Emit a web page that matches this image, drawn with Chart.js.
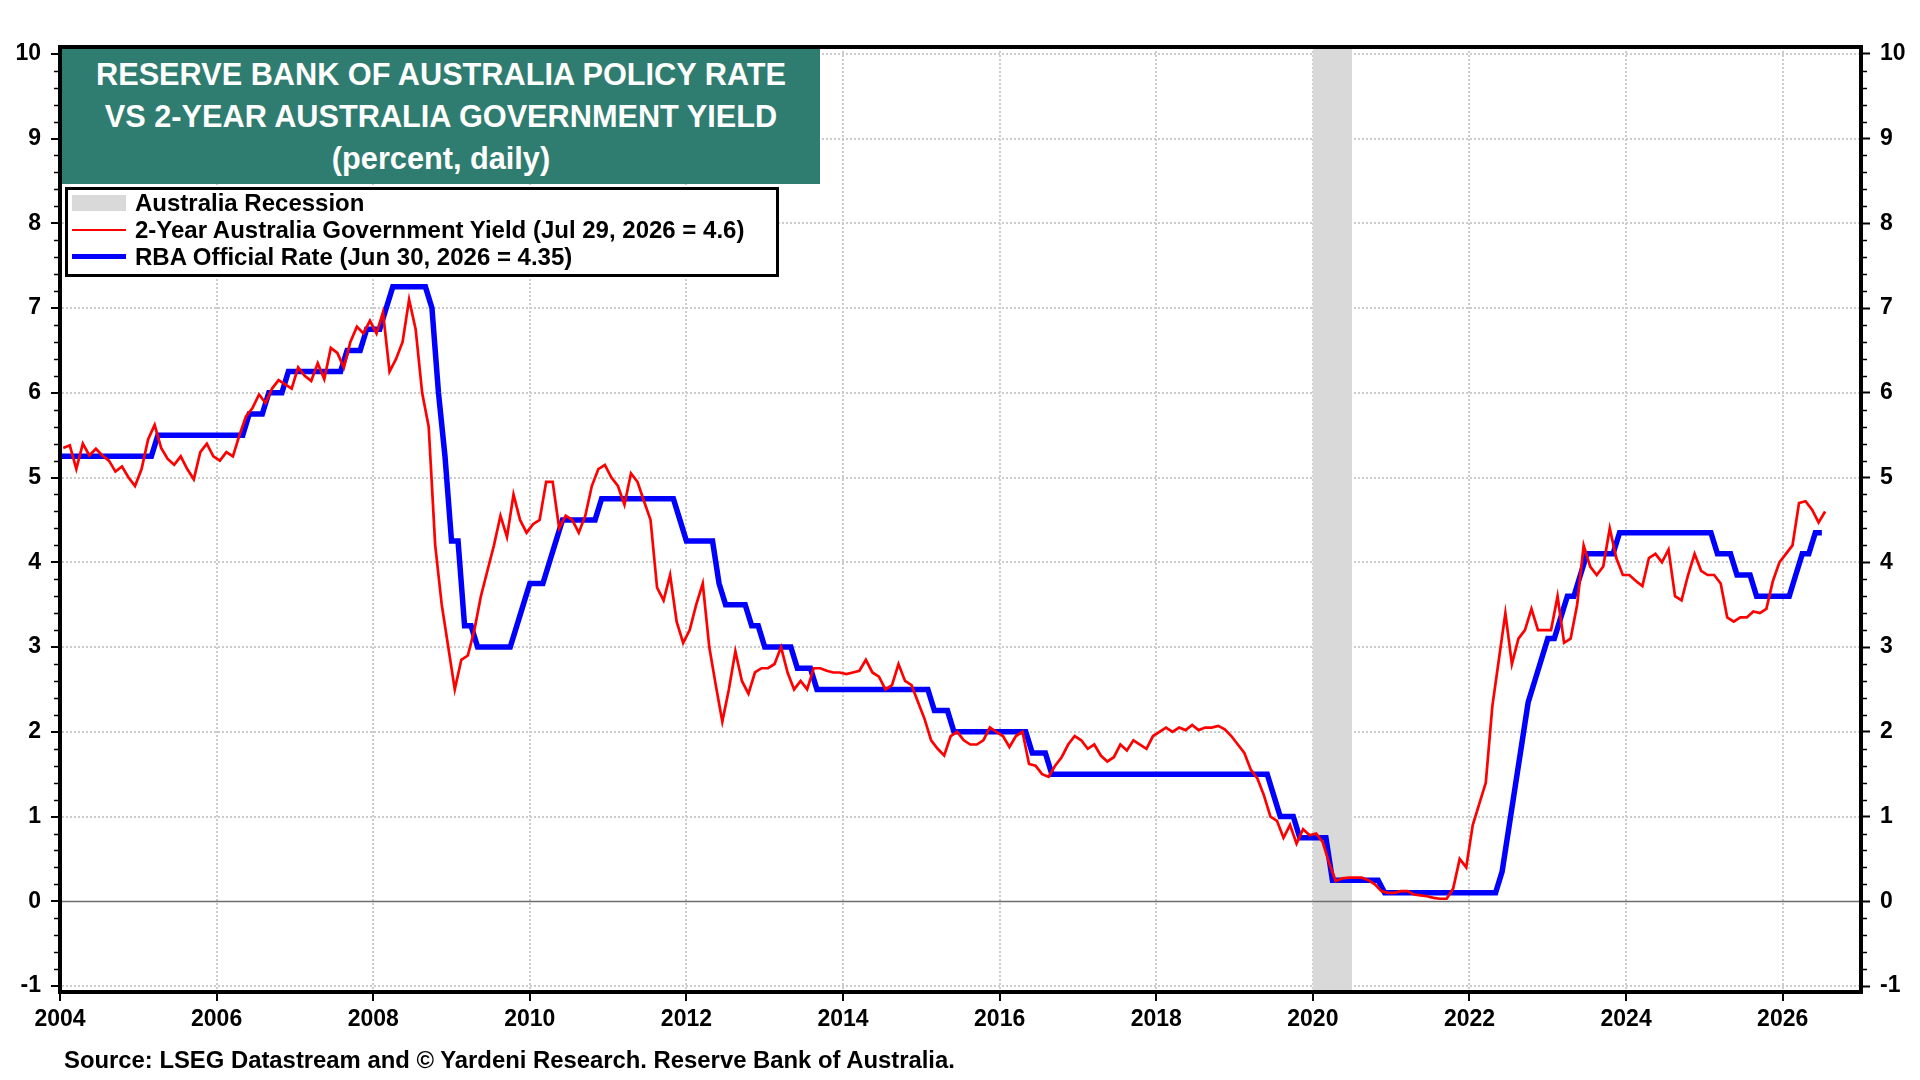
<!DOCTYPE html>
<html>
<head>
<meta charset="utf-8">
<script src="https://cdn.jsdelivr.net/npm/chart.js@4.4.1/dist/chart.umd.min.js"></script>
<style>
  html, body { margin: 0; padding: 0; background: #fff; }
  #wrap { position: relative; width: 1920px; height: 1080px; overflow: hidden;
          font-family: "Liberation Sans", Arial, sans-serif; font-weight: bold; color: #000; }
  #c { position: absolute; left: 0; top: 0; }
  #title { position: absolute; left: 62px; top: 49px; width: 758px; height: 135px;
           background: #2f7d70; color: #fff; text-align: center; font-size: 30.7px;
           line-height: 42px; padding-top: 5px; box-sizing: border-box; }
  #legend { position: absolute; left: 65px; top: 187px; width: 714px; height: 90px;
            background: #fff; border: 3px solid #000; box-sizing: border-box; }
  .row { position: absolute; left: 0; height: 28px; width: 700px; }
  .sw { position: absolute; left: 4px; width: 54px; }
  .txt { position: absolute; left: 67px; top: 0; line-height: 28px; font-size: 24px; white-space: nowrap; }
  #source { position: absolute; left: 64px; top: 1046px; line-height: 28px; font-size: 23.85px; white-space: nowrap; }
</style>
</head>
<body>
<div id="wrap">
  <canvas id="c" width="1920" height="1080"></canvas>
  <div id="title">
    <div>RESERVE BANK OF AUSTRALIA POLICY RATE</div>
    <div>VS 2-YEAR AUSTRALIA GOVERNMENT YIELD</div>
    <div>(percent, daily)</div>
  </div>
  <div id="legend">
    <div class="row" style="top:-1px"><div class="sw" style="top:6px;height:16px;background:#d9d9d9"></div><div class="txt">Australia Recession</div></div>
    <div class="row" style="top:26px"><div class="sw" style="top:13px;height:2px;background:#ff0000"></div><div class="txt">2-Year Australia Government Yield (Jul 29, 2026 = 4.6)</div></div>
    <div class="row" style="top:53px"><div class="sw" style="top:11px;height:5px;background:#0000ff"></div><div class="txt">RBA Official Rate (Jun 30, 2026 = 4.35)</div></div>
  </div>
  <div id="source">Source: LSEG Datastream and © Yardeni Research. Reserve Bank of Australia.</div>
</div>
<script>
// ---------------- DATA ----------------
// 2-year Australia government yield, monthly readings (percent), starting Jan 2004
const yieldStart = '2004-01';
const yieldValues = [
  5.35, 5.38, 5.10, 5.40, 5.26, 5.34, 5.26, 5.20, 5.07, 5.13, 5.00, 4.90, // 2004
  5.10, 5.45, 5.62, 5.35, 5.22, 5.15, 5.25, 5.10, 4.98, 5.30, 5.40, 5.25, // 2005
  5.20, 5.30, 5.25, 5.50, 5.72, 5.82, 5.98, 5.88, 6.05, 6.15, 6.10, 6.05, // 2006
  6.30, 6.20, 6.14, 6.35, 6.16, 6.53, 6.47, 6.30, 6.60, 6.78, 6.70, 6.85, // 2007
  6.70, 6.95, 6.25, 6.40, 6.60, 7.10, 6.75, 6.00, 5.60, 4.20, 3.50, 3.00, // 2008
  2.50, 2.85, 2.90, 3.20, 3.60, 3.90, 4.20, 4.55, 4.30, 4.80, 4.50, 4.35, // 2009
  4.45, 4.50, 4.95, 4.95, 4.40, 4.55, 4.50, 4.35, 4.55, 4.90, 5.10, 5.15, // 2010
  5.00, 4.90, 4.68, 5.05, 4.95, 4.72, 4.50, 3.70, 3.55, 3.85, 3.30, 3.05, // 2011
  3.20, 3.50, 3.75, 3.00, 2.55, 2.12, 2.50, 2.95, 2.60, 2.45, 2.70, 2.75, // 2012
  2.75, 2.80, 3.00, 2.70, 2.50, 2.60, 2.50, 2.75, 2.75, 2.72, 2.70, 2.70, // 2013
  2.68, 2.70, 2.72, 2.85, 2.70, 2.65, 2.50, 2.55, 2.80, 2.60, 2.55, 2.35, // 2014
  2.15, 1.90, 1.80, 1.72, 1.95, 2.00, 1.90, 1.85, 1.85, 1.90, 2.05, 2.00, // 2015
  1.95, 1.82, 1.95, 2.00, 1.62, 1.60, 1.50, 1.47, 1.60, 1.70, 1.85, 1.95, // 2016
  1.90, 1.80, 1.85, 1.72, 1.65, 1.70, 1.85, 1.78, 1.90, 1.85, 1.80, 1.95, // 2017
  2.00, 2.05, 2.00, 2.05, 2.02, 2.08, 2.02, 2.05, 2.05, 2.07, 2.03, 1.95, // 2018
  1.85, 1.75, 1.55, 1.45, 1.25, 1.00, 0.95, 0.75, 0.90, 0.68, 0.85, 0.78, // 2019
  0.80, 0.70, 0.45, 0.24, 0.27, 0.28, 0.28, 0.28, 0.25, 0.20, 0.12, 0.10, // 2020
  0.10, 0.12, 0.12, 0.08, 0.07, 0.06, 0.04, 0.03, 0.03, 0.15, 0.50, 0.40, // 2021
  0.90, 1.15, 1.40, 2.30, 2.85, 3.40, 2.80, 3.10, 3.20, 3.45, 3.20, 3.20, // 2022
  3.20, 3.60, 3.05, 3.10, 3.50, 4.20, 3.95, 3.85, 3.95, 4.40, 4.05, 3.85, // 2023
  3.85, 3.78, 3.72, 4.05, 4.10, 4.00, 4.15, 3.60, 3.55, 3.85, 4.10, 3.90, // 2024
  3.85, 3.85, 3.75, 3.35, 3.30, 3.35, 3.35, 3.42, 3.40, 3.45, 3.78, 4.00, // 2025
  4.10, 4.20, 4.70, 4.72, 4.62, 4.47, 4.60                                // 2026
];

// RBA official cash rate, month-end observations (only the months around each change)
const rbaMonths = [
  '2003-12','2005-02','2005-03','2006-04','2006-05','2006-07','2006-08','2006-10','2006-11',
  '2007-07','2007-08','2007-10','2007-11','2008-01','2008-02','2008-03','2008-08','2008-09',
  '2008-10','2008-11','2008-12','2009-01','2009-02','2009-03','2009-04','2009-09','2009-10',
  '2009-11','2009-12','2010-02','2010-03','2010-04','2010-05','2010-10','2010-11','2011-10',
  '2011-11','2011-12','2012-04','2012-05','2012-06','2012-09','2012-10','2012-11','2012-12',
  '2013-04','2013-05','2013-07','2013-08','2015-01','2015-02','2015-04','2015-05','2016-04',
  '2016-05','2016-07','2016-08','2019-05','2019-06','2019-07','2019-09','2019-10','2020-02',
  '2020-03','2020-10','2020-11','2022-04','2022-05','2022-06','2022-07','2022-08','2022-09',
  '2022-10','2022-11','2022-12','2023-01','2023-02','2023-03','2023-04','2023-05','2023-06',
  '2023-10','2023-11','2025-01','2025-02','2025-04','2025-05','2025-07','2025-08','2026-01',
  '2026-02','2026-03','2026-04','2026-05','2026-06'
];
const rbaValues = [
  5.25, 5.25, 5.50, 5.50, 5.75, 5.75, 6.00, 6.00, 6.25,
  6.25, 6.50, 6.50, 6.75, 6.75, 7.00, 7.25, 7.25, 7.00,
  6.00, 5.25, 4.25, 4.25, 3.25, 3.25, 3.00, 3.00, 3.25,
  3.50, 3.75, 3.75, 4.00, 4.25, 4.50, 4.50, 4.75, 4.75,
  4.50, 4.25, 4.25, 3.75, 3.50, 3.50, 3.25, 3.25, 3.00,
  3.00, 2.75, 2.75, 2.50, 2.50, 2.25, 2.25, 2.00, 2.00,
  1.75, 1.75, 1.50, 1.50, 1.25, 1.00, 1.00, 0.75, 0.75,
  0.25, 0.25, 0.10, 0.10, 0.35, 0.85, 1.35, 1.85, 2.35,
  2.60, 2.85, 3.10, 3.10, 3.35, 3.60, 3.60, 3.85, 4.10,
  4.10, 4.35, 4.35, 4.10, 4.10, 3.85, 3.85, 3.60, 3.60,
  3.85, 4.10, 4.10, 4.35, 4.35
];

// Australia recession (first month, last month)
const recessionStart = ['2020-01'];
const recessionEnd = ['2020-06'];

// Axis ticks
const xTickYears = [2004, 2006, 2008, 2010, 2012, 2014, 2016, 2018, 2020, 2022, 2024, 2026];
const yTickValues = [-1, 0, 1, 2, 3, 4, 5, 6, 7, 8, 9, 10];
const xRange = [2004, 2027];
const yRange = [-1.07, 10.08];

// ---------------- HELPERS ----------------
function parseYM(s) { const p = s.split('-'); return [Number(p[0]), Number(p[1])]; }
function monthEnd(s) { const [y, m] = parseYM(s); return y + m / 12; }
function monthStartX(s) { const [y, m] = parseYM(s); return y + (m - 1) / 12; }
const [y0, m0] = parseYM(yieldStart);
const yieldPoints = yieldValues.map((v, i) => ({ x: y0 + (m0 - 1 + i + 0.5) / 12, y: v }));
const rbaPoints = rbaMonths.map((s, i) => ({ x: monthEnd(s), y: rbaValues[i] }));

const FONT = '"Liberation Sans", Arial, sans-serif';

const decor = {
  id: 'decor',
  beforeDatasetsDraw(chart) {
    const { ctx, chartArea: a, scales: { x, y } } = chart;
    ctx.save();
    ctx.fillStyle = '#d9d9d9';
    for (let i = 0; i < recessionStart.length; i++) {
      const x1 = x.getPixelForValue(monthStartX(recessionStart[i]));
      const x2 = x.getPixelForValue(monthEnd(recessionEnd[i]));
      ctx.fillRect(x1, a.top, x2 - x1, a.bottom - a.top);
    }
    const py = Math.round(y.getPixelForValue(0)) + 0.5;
    ctx.strokeStyle = '#6e6e6e';
    ctx.lineWidth = 1.6;
    ctx.beginPath(); ctx.moveTo(a.left, py); ctx.lineTo(a.right, py); ctx.stroke();
    ctx.restore();
  },
  afterDraw(chart) {
    const { ctx, chartArea: a, scales: { y } } = chart;
    ctx.save();
    ctx.strokeStyle = '#000';
    ctx.lineWidth = 4;
    ctx.strokeRect(a.left, a.top, a.right - a.left, a.bottom - a.top);
    ctx.lineWidth = 1.5;
    ctx.beginPath();
    for (let i = -5; i <= 50; i++) {
      if (i % 5 === 0) continue;
      const py = Math.round(y.getPixelForValue(i / 5)) + 0.5;
      ctx.moveTo(a.left - 6, py); ctx.lineTo(a.left, py);
      ctx.moveTo(a.right, py); ctx.lineTo(a.right + 6, py);
    }
    ctx.stroke();
    ctx.restore();
  }
};

const tickFont = { family: FONT, size: 23, weight: 'bold' };

new Chart(document.getElementById('c'), {
  type: 'line',
  data: {
    datasets: [
      { label: '2-Year Australia Government Yield', data: yieldPoints, borderColor: '#ff0000',
        borderWidth: 2.7, pointRadius: 0, tension: 0, fill: false },
      { label: 'RBA Official Rate', data: rbaPoints, borderColor: '#0000ff',
        borderWidth: 5.5, pointRadius: 0, tension: 0, fill: false }
    ]
  },
  options: {
    responsive: false,
    animation: false,
    devicePixelRatio: 1,
    parsing: false,
    layout: { padding: { top: 47, left: 0, right: 0, bottom: 0 } },
    plugins: { legend: { display: false }, tooltip: { enabled: false } },
    scales: {
      x: {
        type: 'linear', position: 'bottom', min: xRange[0], max: xRange[1],
        afterBuildTicks: (s) => { s.ticks = xTickYears.map(v => ({ value: v })); },
        afterFit: (s) => { s.height = 88; },
        ticks: { font: tickFont, color: '#000', padding: 5, maxRotation: 0, autoSkip: false,
                 callback: (v) => String(v) },
        grid: { color: '#cccccc', lineWidth: 2, tickLength: 9, tickColor: '#000', tickWidth: 2 },
        border: { display: true, color: '#000', width: 4, dash: [2, 2] }
      },
      y: {
        type: 'linear', position: 'left', min: yRange[0], max: yRange[1],
        afterBuildTicks: (s) => { s.ticks = yTickValues.map(v => ({ value: v })); },
        afterFit: (s) => { s.width = 60; },
        ticks: { font: tickFont, color: '#000', padding: 10, callback: (v) => String(v) },
        grid: { color: (c) => (c.tick && c.tick.value === 0 ? 'rgba(0,0,0,0)' : '#cccccc'),
                lineWidth: 2, tickLength: 9, tickColor: '#000', tickWidth: 2 },
        border: { display: true, color: '#000', width: 4, dash: [2, 2] }
      },
      y2: {
        type: 'linear', position: 'right', min: yRange[0], max: yRange[1],
        afterBuildTicks: (s) => { s.ticks = yTickValues.map(v => ({ value: v })); },
        afterFit: (s) => { s.width = 59; },
        ticks: { font: tickFont, color: '#000', padding: 10, callback: (v) => String(v) },
        grid: { drawOnChartArea: false, tickLength: 9, tickColor: '#000', tickWidth: 2 },
        border: { display: true, color: '#000', width: 4 }
      }
    }
  },
  plugins: [decor]
});
</script>
</body>
</html>
